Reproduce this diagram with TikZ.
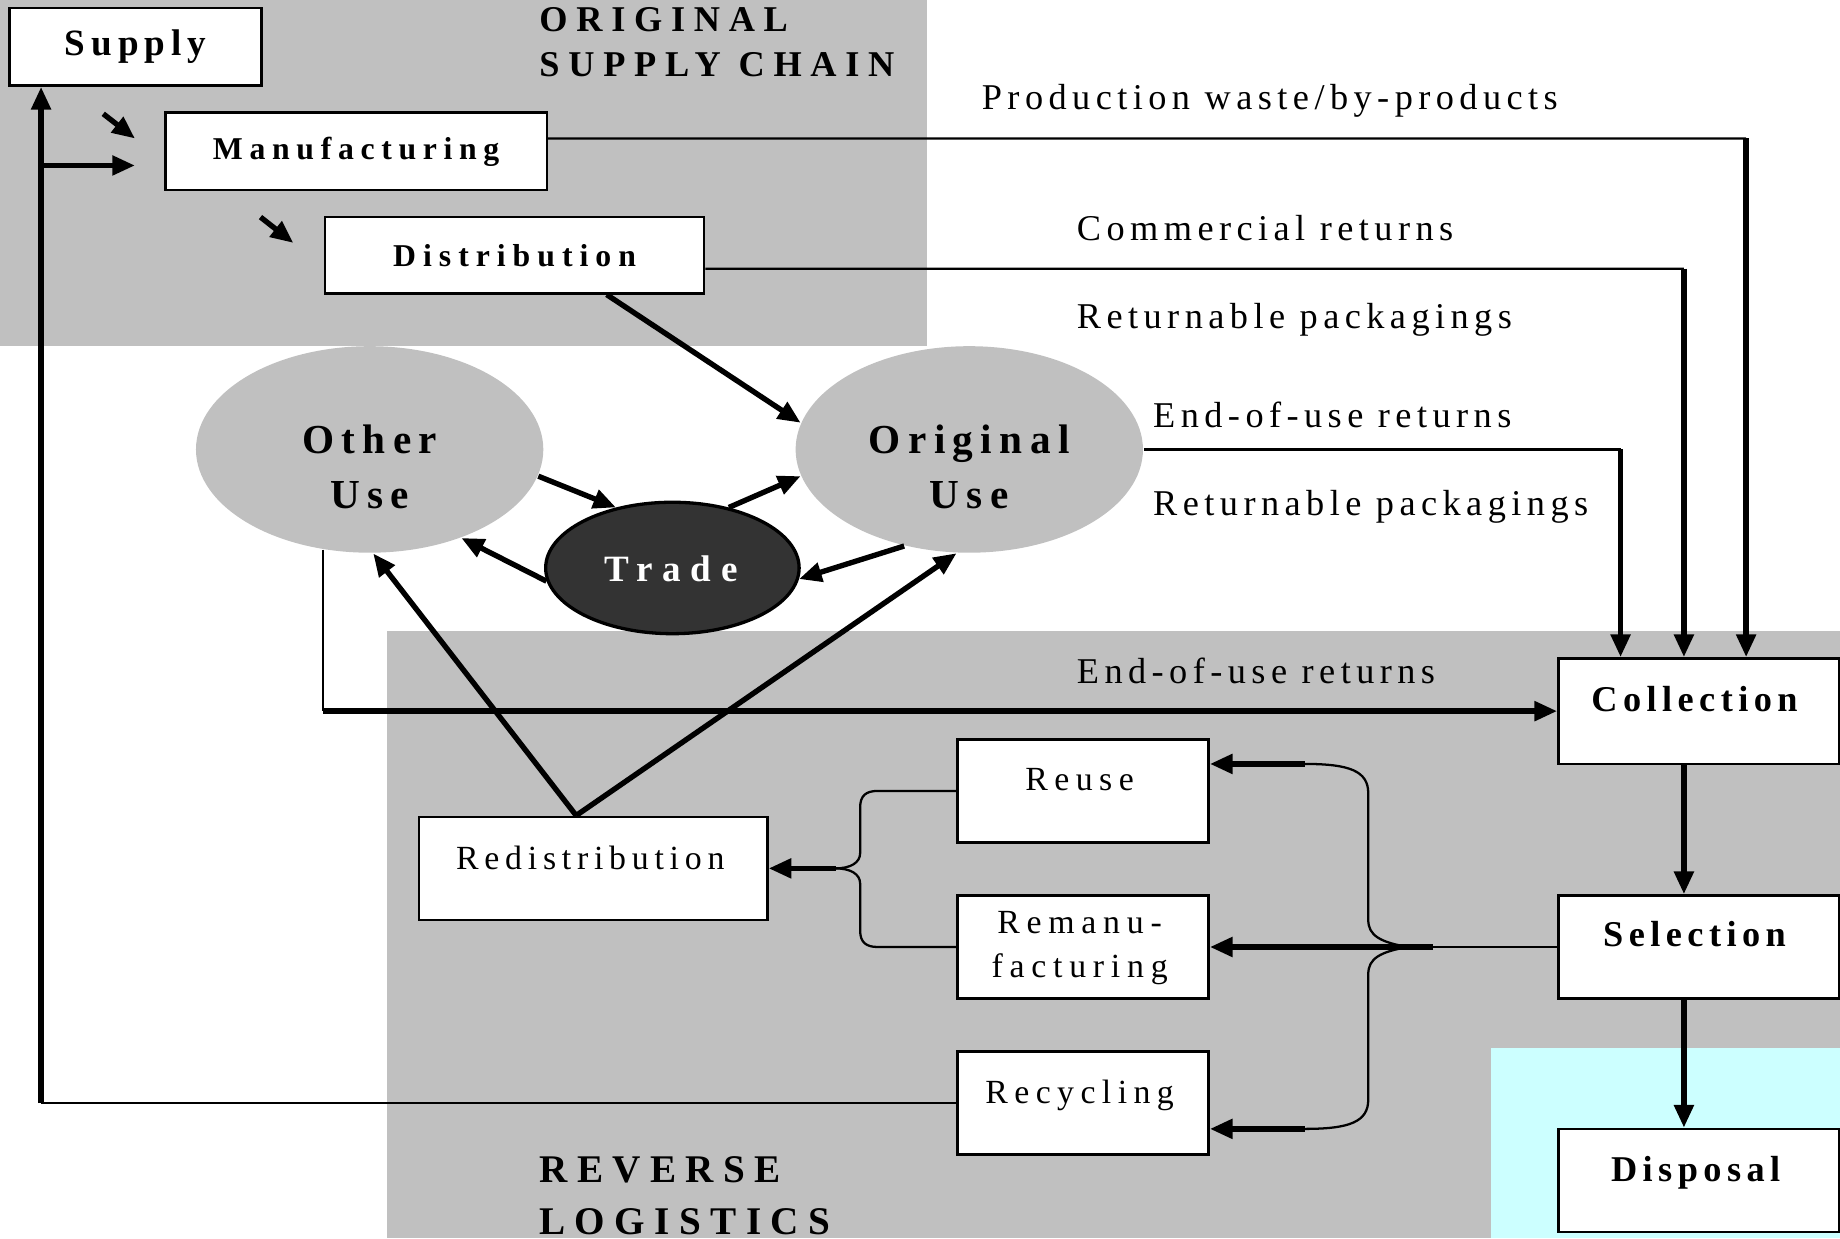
\documentclass[tikz,border=0pt]{standalone}
\usepackage{fontspec}
\setmainfont{Liberation Serif}
\usetikzlibrary{arrows.meta,shapes.geometric,positioning}

\definecolor{panelgrey}{HTML}{C0C0C0}
\definecolor{disposalcyan}{HTML}{CCFFFF}
\definecolor{tradefill}{HTML}{333333}

\tikzset{
  stagebox/.style={draw, fill=white, line width=0.6pt, inner sep=0pt},
  usebubble/.style={ellipse, fill=panelgrey, inner sep=0pt},
  thinline/.style={line width=0.55pt},
  flowarrow/.style={line width=1.3pt, -{Triangle[length=5.5pt,width=4.6pt]}},
  flowtext/.style={anchor=west, inner sep=0pt, text height=0.66em, text depth=0pt,
    font={\fontsize{8.8}{10}\selectfont\addfontfeature{LetterSpace=15}}},
  stagetext/.style={inner sep=0pt, text height=0.66em, text depth=0pt,
    font={\bfseries\fontsize{8.8}{10}\selectfont\addfontfeature{LetterSpace=15}}},
  steptext/.style={inner sep=0pt, text height=0.66em, text depth=0pt,
    font={\fontsize{8.2}{10}\selectfont\addfontfeature{LetterSpace=19}}},
  usetext/.style={inner sep=0pt, align=center,
    font={\bfseries\fontsize{10}{13.4}\selectfont\addfontfeature{LetterSpace=18}}},
  heading/.style={anchor=west, inner sep=0pt, align=left,
    font={\bfseries\fontsize{8.8}{11}\selectfont\addfontfeature{LetterSpace=24}}},
}

\begin{document}
\begin{tikzpicture}[x=0.1mm,y=-0.1mm]
\useasboundingbox (0,0) rectangle (1568,1055);

% Panels
\fill[panelgrey] (0,0) rectangle (790,295);
\fill[panelgrey] (330,538) rectangle (1568,1055);
\fill[disposalcyan] (1271,893) rectangle (1568,1055);

\node[heading] (hdorig) at (459,36) {ORIGINAL\\SUPPLY CHAIN};
\node[heading, font={\bfseries\fontsize{9.5}{12.5}\selectfont\addfontfeature{LetterSpace=24}}] (hdrev) at (459,1019) {REVERSE\\LOGISTICS};

% Original supply chain
\node[stagebox, minimum width=21.5mm, minimum height=6.6mm,
  font={\bfseries\fontsize{9}{10}\selectfont\addfontfeature{LetterSpace=16}}] (supply) at (115.5,40) {Supply};
\node[stagebox, minimum width=32.5mm, minimum height=6.6mm,
  font={\bfseries\fontsize{7.7}{9}\selectfont\addfontfeature{LetterSpace=21}}] (manu) at (303.5,129) {Manufacturing};
\node[stagebox, minimum width=32.3mm, minimum height=6.5mm,
  font={\bfseries\fontsize{7.7}{9}\selectfont\addfontfeature{LetterSpace=22}}] (dist) at (438.5,217.5) {Distribution};

% Use
\node[usebubble, minimum width=29.6mm, minimum height=17.6mm] (other) at (315,383) {};
\node[usebubble, minimum width=29.6mm, minimum height=17.6mm] (orig) at (826,383) {};
\node[ellipse, draw, line width=0.8pt, fill=tradefill, minimum width=21.6mm, minimum height=11.2mm, inner sep=0pt] (trade) at (573,484) {};
\node[usetext] (othertxt) at (315,398) {Other\\Use};
\node[usetext] (origtxt) at (826,398) {Original\\Use};
\node[inner sep=0pt, text=white, text height=0.66em, text depth=0pt,
  font={\bfseries\fontsize{9}{10}\selectfont\addfontfeature{LetterSpace=26}}] (tradetxt) at (572,484) {Trade};

% Reverse logistics
\node[stagebox, minimum width=23.9mm, minimum height=9mm] (coll) at (1447.5,606) {};
\node[stagebox, minimum width=23.9mm, minimum height=8.8mm] (sel) at (1447.5,807) {};
\node[stagebox, minimum width=23.9mm, minimum height=8.8mm] (disp) at (1447.5,1006) {};
\node[stagetext] (colltxt) at (1444,595) {Collection};
\node[stagetext] (seltxt) at (1444,795) {Selection};
\node[stagetext] (disptxt) at (1445,995) {Disposal};

\node[stagebox, minimum width=21.4mm, minimum height=8.8mm] (reuse) at (923,674) {};
\node[stagebox, minimum width=21.4mm, minimum height=8.8mm] (reman) at (923,807) {};
\node[stagebox, minimum width=21.4mm, minimum height=8.8mm] (recy) at (923,940) {};
\node[stagebox, minimum width=29.7mm, minimum height=8.8mm] (redis) at (505.5,740) {};
\node[steptext] (reusetxt) at (920,662) {Reuse};
\node[steptext, text height=, text depth=, align=center,
  font={\fontsize{8.2}{10.8}\selectfont\addfontfeature{LetterSpace=20}}] (remantxt) at (920,808) {Remanu-\\facturing};
\node[steptext] (recytxt) at (920,929) {Recycling};
\node[steptext, font={\fontsize{8.2}{10}\selectfont\addfontfeature{LetterSpace=17}}] (redistxt) at (503,729) {Redistribution};

% Flow labels
\node[flowtext] (lbwaste) at (836,82) {Production waste/by-products};
\node[flowtext] (lbcomm) at (917,193) {Commercial returns};
\node[flowtext] (lbpack) at (917,268) {Returnable packagings};
\node[flowtext] (lbeou) at (982,353) {End-of-use returns};
\node[flowtext] (lbpack2) at (982,428) {Returnable packagings};
\node[flowtext] (lbeou2) at (917,571) {End-of-use returns};

% Corner points
\coordinate (sm1) at (88,97);
\coordinate (sm2) at (115,118);
\coordinate (md1) at (222,185);
\coordinate (md2) at (250,207);
\coordinate (ret) at (35,940);
\coordinate (mf) at (115,141);
\coordinate (pw) at (1488,118);
\coordinate (cr) at (1435,229);
\coordinate (eu) at (1381,383);
\coordinate (eo) at (other.-115 |- coll.west);
\coordinate (bp) at (1200,807);
\coordinate (bm) at (1221,807);
\coordinate (bt) at (1112,651);
\coordinate (bb) at (1112,962);
\coordinate (lt) at (712,740);

% Forward flows
\draw[flowarrow] (sm1) -- (sm2);
\draw[flowarrow] (md1) -- (md2);
\draw[flowarrow] (ret |- mf) -- (mf);
\draw[thinline] (recy.west) -- (ret);
\draw[flowarrow] (ret) -- (ret |- supply.south);
\draw[flowarrow] ([xshift=7.85mm]dist.south) -- (orig.171);

% Trade loop
\draw[flowarrow] (other.-9) -- (trade.133);
\draw[flowarrow] (trade.47) -- (orig.189);
\draw[flowarrow] (trade.186) -- (other.-44);
\draw[flowarrow] (orig.236) -- (trade.-5);

% Returns to collection
\draw[thinline] ([yshift=1.1mm]manu.east) -- (pw);
\draw[flowarrow] (pw) -- (pw |- coll.north);
\draw[thinline] ([yshift=-1.15mm]dist.east) -- (cr);
\draw[flowarrow] (cr) -- (cr |- coll.north);
\draw[thinline] (orig.east) -- (eu);
\draw[flowarrow] (eu) -- (eu |- coll.north);
\draw[thinline] (other.-115) -- (eo);
\draw[flowarrow] (eo) -- (coll.west);

% Collection - selection - disposal
\draw[flowarrow] ([xshift=-1.25mm]coll.south) -- ([xshift=-1.25mm]sel.north);
\draw[flowarrow] ([xshift=-1.25mm]sel.south) -- ([xshift=-1.25mm]disp.north);

% Selection brace
\draw[thinline] (sel.west) -- (bp);
\draw[thinline] (bp) .. controls (1176,803) and (1166,797) .. (1166,784) -- (1166,676)
  .. controls (1166,657) and (1150,651) .. (bt);
\draw[thinline] (bp) .. controls (1176,811) and (1166,817) .. (1166,830) -- (1166,937)
  .. controls (1166,956) and (1150,962) .. (bb);
\draw[flowarrow] (bt) -- (reuse.east |- bt);
\draw[flowarrow] (bm) -- (reman.east);
\draw[flowarrow] (bb) -- (recy.east |- bb);

% Redistribution brace
\draw[thinline] (reuse.west) -- (748,674) .. controls (738,674) and (733,678) .. (733,688)
  -- (733,727) .. controls (733,735) and (725,740) .. (lt);
\draw[thinline] (reman.west) -- (748,807) .. controls (738,807) and (733,803) .. (733,793)
  -- (733,753) .. controls (733,745) and (725,740) .. (lt);
\draw[flowarrow] (lt) -- (redis.east);

% Redistribution back to use
\draw[flowarrow] ([xshift=-1.45mm]redis.north) -- (other.-88);
\draw[flowarrow] ([xshift=-1.45mm]redis.north) -- (orig.-97);

\end{tikzpicture}
\end{document}
